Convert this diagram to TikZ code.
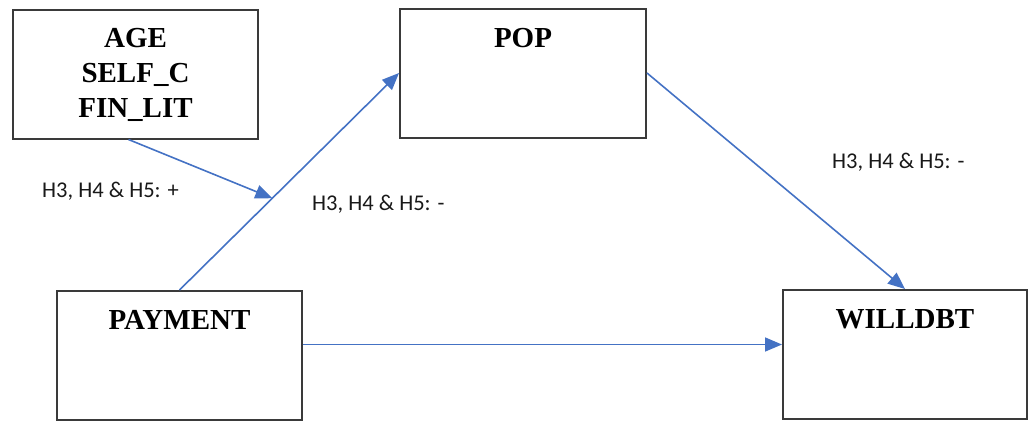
\documentclass[tikz,border=0pt]{standalone}
\usepackage{fontspec}
\setmainfont{Liberation Serif}
\newfontfamily\labelfont{Carlito}
\usetikzlibrary{arrows.meta,calc}

\definecolor{linkblue}{HTML}{4472C4}
\definecolor{boxline}{HTML}{3A3A3A}

\tikzset{
  varbox/.style={draw=boxline, line width=2pt, rectangle, fill=white,
                 inner sep=0pt, minimum width=#1, minimum height=129pt},
  varbox/.default=245pt,
  vartext/.style={font=\fontsize{29}{35}\selectfont\bfseries, text=black,
                  inner sep=0pt, align=center},
  link/.style={draw=linkblue, line width=1.6pt,
               -{Triangle[length=17pt,width=14pt]}},
  hyp/.style={font=\labelfont\fontsize{22.5}{27}\selectfont, text=black!90,
              inner sep=0pt, anchor=base west}
}

\begin{document}
\begin{tikzpicture}[x=1pt,y=1pt]
  \useasboundingbox (0,0) rectangle (1028,-421);

  % variable boxes
  \node[varbox] (age)  at (135.5,-74)  {};
  \node[varbox=246pt] (pop)  at (523,-73)    {};
  \node[varbox] (pay)  at (179.5,-355.5) {};
  \node[varbox=244pt] (will) at (905,-354.5) {};

  % box captions (base anchor of a multi-line node is its last line)
  \node[vartext, anchor=base] (ageT) at (135.5,-117) {AGE\\SELF\_C\\FIN\_LIT};
  \node[vartext, anchor=base] (popT) at (523,-47) {POP};
  \node[vartext, anchor=base] (payT) at (179.5,-329) {PAYMENT};
  \node[vartext, anchor=base] (willT) at (905,-328) {WILLDBT};

  % paths
  \draw[link] (pay.north) -- (pop.west);
  \coordinate (mod) at ($(pay.north)!0.423!(pop.west)$);
  \draw[link] ([xshift=-7pt]age.south) -- (mod);
  \draw[link] (pop.east) -- (will.north);
  \draw[link] ([yshift=11pt]pay.east) -- ([yshift=11pt]pay.east -| will.west);

  % hypothesis labels
  \node[hyp] (h1) at (42,-197) {H3, H4 \& H5: +};
  \node[hyp] (h2) at (312,-210) {H3, H4 \& H5: -};
  \node[hyp] (h3) at (832,-168) {H3, H4 \& H5: -};
\end{tikzpicture}
\end{document}
